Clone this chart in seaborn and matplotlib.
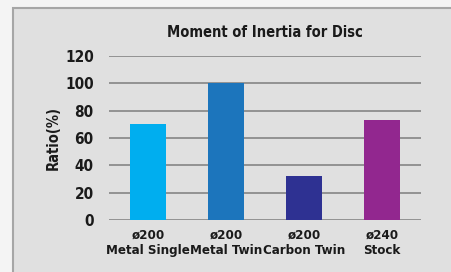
import matplotlib
matplotlib.use("Agg")
import matplotlib.pyplot as plt
import seaborn as sns
import pandas as pd
from matplotlib.patches import Rectangle

categories = ["ø200\nMetal Single", "ø200\nMetal Twin", "ø200\nCarbon Twin", "ø240\nStock"]
ratios = [70, 100.5, 32, 73]
colors = ["#00aeef", "#1c75bc", "#2e3192", "#92278f"]
yticks = [0, 20, 40, 60, 80, 100, 120]

df = pd.DataFrame({"Disc": categories, "Ratio": ratios})

sns.set_theme(style="white")
plt.rcParams["font.family"] = ["DejaVu Sans"]
plt.rcParams["font.stretch"] = "condensed"
plt.rcParams["font.weight"] = "bold"

fig = plt.figure(figsize=(4.51, 2.72), dpi=100)
fig.patch.set_facecolor("#f4f4f4")
fig.patches.append(Rectangle((13 / 451, -0.05), 1.0, 1 - 8 / 272 + 0.05,
                             transform=fig.transFigure, facecolor="#e0e0e0",
                             edgecolor="#a6a6a6", linewidth=1.5, zorder=-1))

ax = fig.add_axes([109 / 451, 52 / 272, 312 / 451, 164 / 272])
ax.set_facecolor("none")
sns.barplot(data=df, x="Disc", y="Ratio", hue="Disc", palette=colors,
            width=0.46, saturation=1, linewidth=0, legend=False, ax=ax, zorder=3)

ax.set_ylim(0, 120)
ax.set_yticks(yticks)
ax.yaxis.grid(True, color="#8c8c8c", linewidth=1.3)
ax.set_axisbelow(True)
for s in ax.spines.values():
    s.set_visible(False)
ax.tick_params(axis="y", length=0, labelsize=11, colors="#1a1a1a", pad=11)
ax.tick_params(axis="x", length=0, labelsize=9.5, colors="#1a1a1a", pad=6)
for lbl in ax.get_xticklabels():
    lbl.set_linespacing(1.3)
    lbl.set_fontweight("bold")
for lbl in ax.get_yticklabels():
    lbl.set_fontweight("bold")

ax.set_xlabel("")
ax.set_ylabel("Ratio(%)", fontsize=10.5, fontweight="bold", color="#1a1a1a", labelpad=3)
ax.set_title("Moment of Inertia for Disc", fontsize=10.5, fontweight="bold",
             color="#1a1a1a", pad=14)

fig.savefig("out.png", dpi=100, facecolor=fig.get_facecolor())
